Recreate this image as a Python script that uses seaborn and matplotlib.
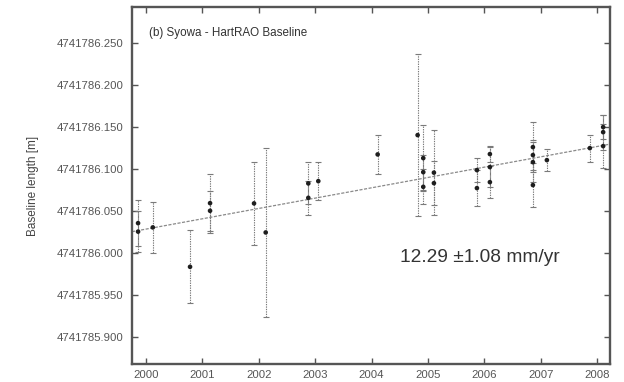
import numpy as np
import pandas as pd
import matplotlib
matplotlib.use("Agg")
import matplotlib.pyplot as plt
import seaborn as sns

# ---- data ----
years = [1999.858, 1999.858, 2000.119, 2000.780, 2001.135, 2001.135, 2001.915, 2002.122,
         2002.878, 2002.878, 2003.055, 2004.108, 2004.817, 2004.917, 2004.917, 2004.917,
         2005.106, 2005.106, 2005.869, 2005.869, 2006.099, 2006.099, 2006.099, 2006.862,
         2006.862, 2006.862, 2006.862, 2007.110, 2007.872, 2008.108, 2008.108, 2008.108]
lengths = [4741786.0357, 4741786.0256, 4741786.0306, 4741785.9837, 4741786.0595, 4741786.0504,
           4741786.0592, 4741786.0246, 4741786.0830, 4741786.0658, 4741786.0857, 4741786.1175,
           4741786.1405, 4741786.1131, 4741786.0964, 4741786.0789, 4741786.0958, 4741786.0833,
           4741786.0988, 4741786.0774, 4741786.1179, 4741786.1024, 4741786.0845, 4741786.1262,
           4741786.1167, 4741786.1083, 4741786.0810, 4741786.1107, 4741786.1250, 4741786.1500,
           4741786.1440, 4741786.1274]
errors = [0.027, 0.024, 0.030, 0.0435, 0.035, 0.024, 0.0496, 0.101, 0.025, 0.020, 0.023, 0.023,
          0.0965, 0.039, 0.021, 0.021, 0.051, 0.026, 0.014, 0.021, 0.010, 0.024, 0.019, 0.030,
          0.018, 0.024, 0.026, 0.013, 0.016, 0.014, 0.021, 0.026]

trend_rate_mm_per_yr = 12.29
trend_rate_err = 1.08
trend_ref_year = 2000.0
trend_ref_length = 4741786.0286

year_ticks = [2000, 2001, 2002, 2003, 2004, 2005, 2006, 2007, 2008]
length_ticks = [4741785.900, 4741785.950, 4741786.000, 4741786.050, 4741786.100,
                4741786.150, 4741786.200, 4741786.250]
x_range = (1999.75, 2008.23)
y_range = (4741785.868, 4741786.293)

title_text = "(b) Syowa - HartRAO Baseline"
ylabel_text = "Baseline length [m]"

# ---- build ----
df = pd.DataFrame({"year": years, "length": lengths, "err": errors})
trend_x = np.array(x_range)
trend_df = pd.DataFrame({
    "year": trend_x,
    "length": trend_ref_length + trend_rate_mm_per_yr / 1000.0 * (trend_x - trend_ref_year),
})

sns.set_style("ticks")
plt.rcParams["font.family"] = ["Liberation Sans", "DejaVu Sans"]

fig = plt.figure(figsize=(6.24, 3.82), dpi=100)
ax = fig.add_axes([0.2115, 0.0471, 0.7661, 0.9346])

sns.lineplot(data=trend_df, x="year", y="length", ax=ax, color="#8a8a8a",
             linewidth=0.9, linestyle=(0, (2.5, 1.2)), zorder=1)

eb = ax.errorbar(df["year"], df["length"], yerr=df["err"], fmt="none",
                 ecolor="#7a7a7a", elinewidth=0.8, capsize=2.0, capthick=0.8, zorder=2)
for lc in eb[2]:
    lc.set_linestyle((0, (1.2, 1.0)))

sns.scatterplot(data=df, x="year", y="length", ax=ax, color="#1e1e1e", s=11,
                edgecolor="none", zorder=3)

ax.set_xlim(*x_range)
ax.set_ylim(*y_range)
ax.set_xticks(year_ticks)
ax.set_xticklabels([str(t) for t in year_ticks])
ax.set_yticks(length_ticks)
ax.set_yticklabels([f"{t:.3f}" for t in length_ticks])
ax.set_xlabel("")
ax.set_ylabel(ylabel_text, fontsize=8.5, color="#444444", labelpad=13)

ax.tick_params(axis="both", direction="in", length=4, width=1.0, color="#555555",
               labelsize=8.2, labelcolor="#555555", top=True, right=True)
ax.tick_params(axis="y", pad=6)
ax.tick_params(axis="x", pad=4)
for sp in ax.spines.values():
    sp.set_visible(True)
    sp.set_linewidth(1.7)
    sp.set_color("#555555")

ax.text(0.035, 0.927, title_text, transform=ax.transAxes, fontsize=8.4,
        color="#333333", va="center", ha="left")
ax.text(0.561, 0.297, f"{trend_rate_mm_per_yr:.2f} \u00b1{trend_rate_err:.2f} mm/yr",
        transform=ax.transAxes, fontsize=13.8, color="#333333", va="center", ha="left")

fig.savefig("out.png", dpi=100)
